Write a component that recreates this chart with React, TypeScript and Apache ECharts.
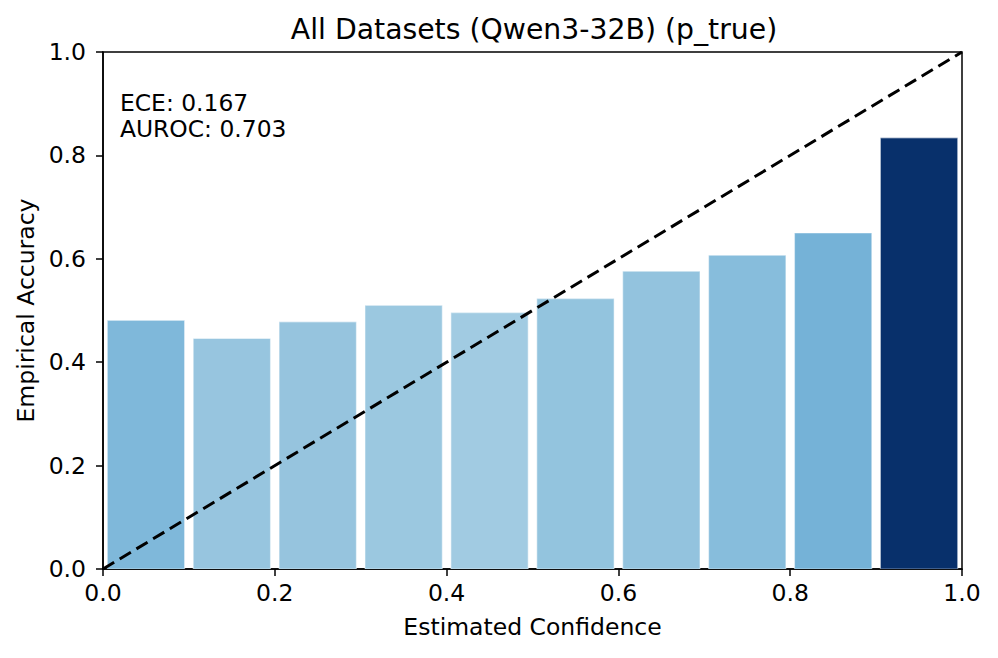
import React, { useEffect, useRef } from "react";
import * as echarts from "echarts";

const binStarts = [0.0, 0.1, 0.2, 0.3, 0.4, 0.5, 0.6, 0.7, 0.8, 0.9];
const accuracies = [0.481, 0.446, 0.478, 0.51, 0.496, 0.523, 0.576, 0.607, 0.65, 0.834];
const barColors = [
  "#7fb8da", "#97c5df", "#96c4de", "#9bc8e0", "#a1cbe2",
  "#93c4de", "#93c3de", "#87bddc", "#75b2d7", "#08306b",
];
const xTicks = [0, 0.2, 0.4, 0.6, 0.8, 1.0];
const yTicks = [0, 0.2, 0.4, 0.6, 0.8, 1.0];
const diagonal = [[0, 0], [1, 1]];
const titleText = "All Datasets (Qwen3-32B) (p_true)";
const annotation = ["ECE: 0.167", "AUROC: 0.703"];
const barWidth = 0.09;

const FONT = "DejaVu Sans";

export default function App() {
  const ref = useRef<HTMLDivElement>(null);
  useEffect(() => {
    document.body.style.margin = "0";
    const chart = echarts.init(ref.current!, null, { renderer: "svg" });
    const barData = binStarts.map((s, i) => [s + 0.05 - barWidth / 2, s + 0.05 + barWidth / 2, accuracies[i], i]);
    chart.setOption({
      animation: false,
      backgroundColor: "#ffffff",
      textStyle: { fontFamily: FONT },
      title: {
        text: titleText,
        left: 529,
        top: 10,
        textAlign: "center",
        textStyle: { fontFamily: FONT, fontSize: 28.3, fontWeight: "normal", color: "#000" },
      },
      grid: {
        left: 103,
        top: 52,
        width: 859,
        height: 517,
        show: true,
        borderColor: "#000",
        borderWidth: 1.5,
        backgroundColor: "transparent",
      },
      xAxis: {
        type: "value",
        min: 0,
        max: 1,
        interval: 0.2,
        name: "Estimated Confidence",
        nameLocation: "middle",
        nameGap: 46,
        nameTextStyle: { fontFamily: FONT, fontSize: 23.5, color: "#000" },
        axisLine: { show: true, lineStyle: { color: "#000", width: 1.5 } },
        axisTick: { show: true, inside: false, length: 7, lineStyle: { color: "#000", width: 1.5 } },
        axisLabel: {
          fontFamily: FONT,
          fontSize: 23.5,
          color: "#000",
          margin: 12,
          formatter: (v: number) => (xTicks.includes(Number(v.toFixed(1))) ? v.toFixed(1) : ""),
        },
        splitLine: { show: false },
      },
      yAxis: {
        type: "value",
        min: 0,
        max: 1,
        interval: 0.2,
        name: "Empirical Accuracy",
        nameLocation: "middle",
        nameGap: 63,
        nameRotate: 90,
        nameTextStyle: { fontFamily: FONT, fontSize: 23.5, color: "#000" },
        axisLine: { show: true, lineStyle: { color: "#000", width: 1.5 } },
        axisTick: { show: true, inside: false, length: 7, lineStyle: { color: "#000", width: 1.5 } },
        axisLabel: {
          fontFamily: FONT,
          fontSize: 23.5,
          color: "#000",
          margin: 17,
          formatter: (v: number) => (yTicks.includes(Number(v.toFixed(1))) ? v.toFixed(1) : ""),
        },
        splitLine: { show: false },
      },
      series: [
        {
          type: "custom",
          data: barData,
          encode: { x: [0, 1], y: 2 },
          clip: true,
          renderItem: (params: any, api: any) => {
            const x0 = api.value(0);
            const x1 = api.value(1);
            const y = api.value(2);
            const idx = api.value(3);
            const p0 = api.coord([x0, y]);
            const p1 = api.coord([x1, 0]);
            return {
              type: "rect",
              shape: { x: p0[0], y: p0[1], width: p1[0] - p0[0], height: p1[1] - p0[1] },
              style: { fill: barColors[idx], stroke: "rgba(255,255,255,0.45)", lineWidth: 1.2 },
            };
          },
          z: 2,
        },
        {
          type: "line",
          data: diagonal,
          symbol: "none",
          lineStyle: { color: "#000", width: 3, type: [13, 6.5] },
          z: 3,
        },
      ],
      graphic: [
        {
          type: "text",
          left: 120,
          top: 90,
          style: {
            text: annotation.join("\n"),
            fontFamily: FONT,
            fontSize: 23.4,
            lineHeight: 26,
            fill: "#000",
          },
          z: 10,
        },
      ],
    });
    return () => chart.dispose();
  }, []);
  return <div ref={ref} style={{ width: 998, height: 658 }} />;
}
